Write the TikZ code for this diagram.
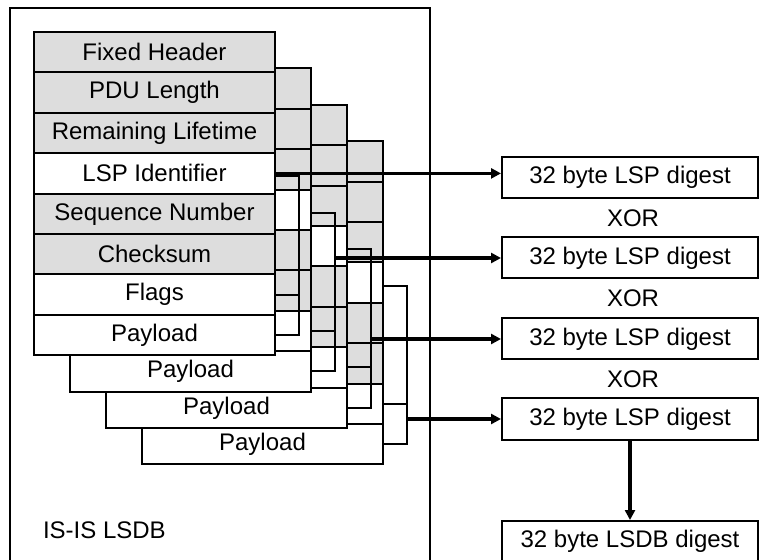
\documentclass[tikz,border=0pt]{standalone}
\usepackage{fontspec}
\setmainfont{Liberation Sans}
\usetikzlibrary{arrows.meta}
\definecolor{ink}{HTML}{000000}
\definecolor{fieldgray}{HTML}{DDDDDD}

\begin{document}
\begin{tikzpicture}[
  x=0.5pt, y=-0.5pt,
  font=\fontsize{12}{14}\selectfont,
  >={Triangle[length=5pt,width=5pt]},
  field/.style={draw=ink, line width=1pt, minimum width=120.5pt,
    minimum height=20.2pt, inner sep=0pt},
  digest/.style={draw=ink, fill=white, line width=1pt, minimum width=128pt,
    minimum height=20.5pt, inner sep=0pt},
  frame/.style={draw=ink, line width=1pt},
  bracket/.style={draw=ink, line width=1pt},
  feed/.style={->, draw=ink, line width=1.6pt}
]
\useasboundingbox (0,0) rectangle (759,560);
\clip (0,0) rectangle (759,560);

\draw[frame] (10,8) rectangle (430,600);
\node[anchor=west] (dbname) at (36,530) {IS-IS LSDB};

\foreach \k in {4,3,2}{
  \foreach \i/\col in {1/fieldgray,2/fieldgray,3/fieldgray,4/white,5/fieldgray,6/fieldgray,7/white}
    \node[field, fill=\col] (rec\k-\i) at ({154.5+36*(\k-1)},{32+36.4*(\k-1)+40.4*(\i-0.5)}) {};
  \node[field, fill=white] (rec\k-8) at ({154.5+36*(\k-1)},{32+36.4*(\k-1)+40.4*7.5}) {Payload};
}
\foreach \i/\col/\lbl in {1/fieldgray/Fixed Header,2/fieldgray/PDU Length,
  3/fieldgray/Remaining Lifetime,4/white/LSP Identifier,5/fieldgray/Sequence Number,
  6/fieldgray/Checksum,7/white/Flags,8/white/Payload}
  \node[field, fill=\col] (rec1-\i) at (154.5,{32+40.4*(\i-0.5)}) {\lbl};

\foreach \k in {1,...,4}{
  \coordinate (bk\k) at ([xshift=11.5pt,yshift=-1.5pt]rec\k-4.east);
  \draw[bracket] ([yshift=-1.5pt]rec\k-4.east) -- (bk\k) |- (rec\k-8.east);
  \draw[bracket] (rec\k-7.east) -- (bk\k |- rec\k-7.east);
}

\node[digest] (dig1) at (630,177.5) {32 byte LSP digest};
\node[digest] (dig2) at (630,258) {32 byte LSP digest};
\node[digest] (dig3) at (630,339) {32 byte LSP digest};
\node[digest] (dig4) at (630,419) {32 byte LSP digest};
\node[digest] (lsdb) at (630,541.5) {32 byte LSDB digest};
\foreach \n/\y in {1/218,2/298,3/379}
  \node (xor\n) at (633,\y) {XOR};

\draw[feed] (rec1-4.east) -- (rec1-4.east -| dig1.west);
\foreach \k in {2,3,4}
  \draw[feed] (bk\k |- dig\k.west) -- (dig\k.west);
\draw[feed] (dig4.south) -- (lsdb.north);
\end{tikzpicture}
\end{document}
